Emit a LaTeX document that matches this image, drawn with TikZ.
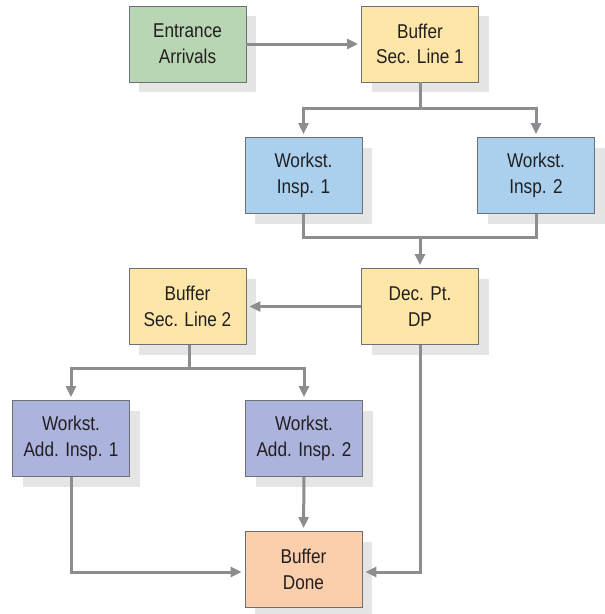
\documentclass[tikz,border=0pt]{standalone}
\usepackage{fontspec}
\setmainfont{Liberation Sans}[FakeStretch=0.86]
\usetikzlibrary{arrows.meta}
\definecolor{boxgreen}{HTML}{B8D6B4}
\definecolor{boxyellow}{HTML}{FEE6A8}
\definecolor{boxblue}{HTML}{AAD0EE}
\definecolor{boxviolet}{HTML}{ACB4DE}
\definecolor{boxorange}{HTML}{FBCEAC}
\definecolor{shadowgray}{HTML}{E6E5E6}
\definecolor{edgegray}{HTML}{6E6F72}
\definecolor{linkgray}{HTML}{8B8D91}
\definecolor{textdark}{HTML}{231F20}
\tikzset{
  flowbox/.style={draw=edgegray, line width=0.9pt, minimum width=117pt, minimum height=76pt,
    inner sep=0pt, align=center, text=textdark,
    font=\fontsize{20}{25.7}\selectfont,
    preaction={fill=shadowgray, draw=none, transform canvas={xshift=10pt, yshift=-10pt}}},
  link/.style={draw=linkgray, line width=3pt},
  flow/.style={link, -{Triangle[length=11pt, width=10pt]}, shorten >=3pt},
}
\begin{document}
\begin{tikzpicture}[x=1pt, y=-1pt]
\useasboundingbox (0,0) rectangle (605,614);
% stations
\node[flowbox, fill=boxgreen]  (entr) at (187.5,44)  {Entrance\\Arrivals};
\node[flowbox, fill=boxyellow] (buf1) at (420,44)    {Buffer\\Sec. Line 1};
\node[flowbox, fill=boxblue]   (ins1) at (303.5,175.5) {Workst.\\Insp. 1};
\node[flowbox, fill=boxblue]   (ins2) at (536,175.5) {Workst.\\Insp. 2};
\node[flowbox, fill=boxyellow] (dp)   at (420,306.5) {Dec. Pt.\\DP};
\node[flowbox, fill=boxyellow] (buf2) at (187.5,306.5) {Buffer\\Sec. Line 2};
\node[flowbox, fill=boxviolet] (add1) at (71,438.5)  {Workst.\\Add. Insp. 1};
\node[flowbox, fill=boxviolet] (add2) at (304,438.5) {Workst.\\Add. Insp. 2};
\node[flowbox, fill=boxorange] (done) at (303.5,569.5) {Buffer\\Done};
% junction points
\coordinate (split1) at (420,108);
\coordinate (merge1) at (420,237);
\coordinate (split2) at (189,368);
\coordinate (cornA) at (71,572);
\coordinate (cornB) at (420,572);
% connectors
\draw[flow] (entr.east) -- (buf1.west);
\draw[link] (buf1.south) -- (split1);
\draw[flow] (split1) -| (ins1.north);
\draw[flow] (split1) -| (ins2.north);
\draw[link] (ins1.south) |- (merge1);
\draw[link] (ins2.south) |- (merge1);
\draw[flow] (merge1) -- (dp.north);
\draw[flow] (dp.west) -- (buf2.east);
\draw[link] (buf2.south -| split2) -- (split2);
\draw[flow] (split2) -| (add1.north);
\draw[flow] (split2) -| (add2.north);
\draw[flow] (add1.south) -- (cornA) -- (cornA -| done.west);
\draw[flow] (add2.south) -- (done.north);
\draw[flow] (dp.south) -- (cornB) -- (cornB -| done.east);
\end{tikzpicture}
\end{document}
